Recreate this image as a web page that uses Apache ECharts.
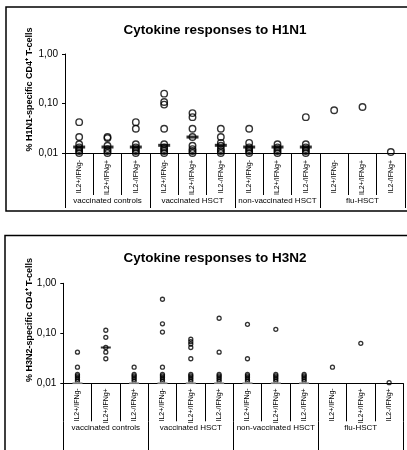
<!DOCTYPE html>
<html>
<head>
<meta charset="utf-8">
<script src="https://cdn.jsdelivr.net/npm/echarts@6/dist/echarts.min.js"></script>
<style>
html,body{margin:0;padding:0;background:#fff;}
#c{width:407px;height:450px;}
</style>
</head>
<body>
<div id="c"></div>
<script>
// ---- data ----
const categories = ['IL2+/IFNg-','IL2+/IFNg+','IL2-/IFNg+','IL2+/IFNg-','IL2+/IFNg+','IL2-/IFNg+','IL2+/IFNg-','IL2+/IFNg+','IL2-/IFNg+','IL2+/IFNg-','IL2+/IFNg+','IL2-/IFNg+'];
const groups = ['vaccinated controls','vaccinated HSCT','non-vaccinated HSCT','flu-HSCT'];
const titles = ['Cytokine responses to H1N1','Cytokine responses to H3N2'];
const yNames = ['% H1N1-specific CD4\u207A T-cells','% H3N2-specific CD4\u207A T-cells'];

// H1N1: one list of values per column, by group
const h1n1VaccControls = [
  [0.042, 0.021, 0.015, 0.013, 0.012, 0.011, 0.01],
  [0.021, 0.02, 0.014, 0.012, 0.011, 0.01],
  [0.042, 0.031, 0.015, 0.013, 0.012, 0.011, 0.01]
];
const h1n1VaccHSCT = [
  [0.158, 0.107, 0.095, 0.031, 0.015, 0.013, 0.012, 0.011, 0.01],
  [0.064, 0.053, 0.031, 0.021, 0.014, 0.012, 0.011, 0.01],
  [0.031, 0.021, 0.016, 0.014, 0.012, 0.011, 0.01]
];
const h1n1NonVaccHSCT = [
  [0.031, 0.016, 0.013, 0.012, 0.011, 0.01],
  [0.015, 0.013, 0.012, 0.011, 0.01],
  [0.053, 0.015, 0.013, 0.012, 0.011, 0.01]
];
const h1n1FluHSCT = [
  [0.073],
  [0.085],
  [0.0105]
];
const h1n1Medians = [0.0132, 0.0132, 0.0132, 0.0143, 0.021, 0.0143, 0.0132, 0.0132, 0.0132, null, null, null];

// H3N2
const h3n2VaccControls = [
  [0.042, 0.021, 0.015, 0.014, 0.013, 0.012, 0.011],
  [0.115, 0.083, 0.052, 0.042, 0.031],
  [0.021, 0.015, 0.014, 0.013, 0.012, 0.011]
];
const h3n2VaccHSCT = [
  [0.48, 0.155, 0.106, 0.021, 0.015, 0.014, 0.013, 0.012, 0.011],
  [0.076, 0.068, 0.061, 0.052, 0.031, 0.015, 0.014, 0.013, 0.012, 0.011],
  [0.2, 0.042, 0.015, 0.014, 0.013, 0.012, 0.011]
];
const h3n2NonVaccHSCT = [
  [0.151, 0.031, 0.015, 0.014, 0.013, 0.012, 0.011],
  [0.12, 0.015, 0.014, 0.013, 0.012, 0.011],
  [0.015, 0.014, 0.013, 0.012, 0.011]
];
const h3n2FluHSCT = [
  [0.021],
  [0.063],
  [0.0103]
];
const h3n2Medians = [0.0101, 0.052, 0.0101, 0.0101, 0.0101, 0.0101, 0.0101, 0.0101, 0.0101, null, null, null];

// ---- build ----
function toPoints(groupLists){
  const cols = [].concat(...groupLists);
  const pts = [];
  cols.forEach((vals, i) => vals.forEach(v => pts.push([i, v])));
  return pts;
}
function toMedians(arr, pred){
  const out = [];
  arr.forEach((v,i) => { if (v != null && pred(v)) out.push([i, v]); });
  return out;
}
const h1n1Points = toPoints([h1n1VaccControls, h1n1VaccHSCT, h1n1NonVaccHSCT, h1n1FluHSCT]);
const h3n2Points = toPoints([h3n2VaccControls, h3n2VaccHSCT, h3n2NonVaccHSCT, h3n2FluHSCT]);

const FONT = 'Liberation Sans, Arial, sans-serif';
const grids = [
  {left: 65, right: 2, top: 54, height: 99},
  {left: 63.3, right: 3.7, top: 283.3, height: 100}
];
const catTickLen = [42, 38];
const groupTickLen = [13, 30];
const catMargin = [7, 5];

function yAxisFor(g){
  return {
    type: 'log', logBase: 10, min: 0.01, max: 1, gridIndex: g,
    axisLine: {show: true, lineStyle: {color: '#000', width: 1}},
    axisTick: {show: true, length: 3, lineStyle: {color: '#000'}},
    splitLine: {show: false},
    minorTick: {show: false},
    axisLabel: {
      color: '#000', fontSize: 10, fontFamily: FONT, margin: 7,
      formatter: v => Number(v).toFixed(2).replace('.', ',')
    }
  };
}
function xAxesFor(g){
  return [{
    type: 'category', data: categories, gridIndex: g, boundaryGap: true,
    axisLine: {show: true, lineStyle: {color: '#000', width: 1}},
    axisTick: {show: true, interval: 0, length: catTickLen[g], lineStyle: {color: '#000'}},
    axisLabel: {interval: 0, rotate: 90, fontSize: 7, fontFamily: FONT, color: '#000', margin: catMargin[g]},
    splitLine: {show: false}
  },{
    type: 'category', data: groups, gridIndex: g, boundaryGap: true, position: 'bottom',
    offset: catTickLen[g],
    axisLine: {show: false},
    axisTick: {show: true, interval: 0, length: groupTickLen[g], lineStyle: {color: '#000'}},
    axisLabel: {interval: 0, fontSize: 8, fontFamily: FONT, color: '#000', margin: 2},
    splitLine: {show: false}
  }];
}

const option = {
  animation: false,
  backgroundColor: '#fff',
  title: [
    {text: titles[0], left: 210, top: 18, textAlign: 'center',
     textStyle: {fontSize: 13.5, fontWeight: 'bold', color: '#000', fontFamily: FONT}},
    {text: titles[1], left: 210, top: 246, textAlign: 'center',
     textStyle: {fontSize: 13.5, fontWeight: 'bold', color: '#000', fontFamily: FONT}}
  ],
  grid: grids,
  xAxis: [...xAxesFor(0), ...xAxesFor(1)],
  yAxis: [yAxisFor(0), yAxisFor(1)],
  graphic: [
    {type: 'rect', shape: {x: 6, y: 7, width: 420, height: 204}, style: {fill: 'none', stroke: '#000', lineWidth: 1.5}, silent: true},
    {type: 'rect', shape: {x: 5, y: 235.5, width: 420, height: 240}, style: {fill: 'none', stroke: '#000', lineWidth: 1.5}, silent: true},
    {type: 'text', x: 30, y: 89.5, rotation: Math.PI/2,
     style: {text: yNames[0], font: 'bold 9px ' + FONT, fill: '#000', textAlign: 'center', textVerticalAlign: 'middle'}},
    {type: 'text', x: 30, y: 320, rotation: Math.PI/2,
     style: {text: yNames[1], font: 'bold 9px ' + FONT, fill: '#000', textAlign: 'center', textVerticalAlign: 'middle'}}
  ],
  series: [
    {type: 'scatter', xAxisIndex: 0, yAxisIndex: 0, data: toMedians(h1n1Medians, () => true), clip: false,
     symbol: 'rect', symbolSize: [12, 3], itemStyle: {color: '#000'}, z: 2},
    {type: 'scatter', xAxisIndex: 0, yAxisIndex: 0, data: h1n1Points, clip: false,
     symbol: 'circle', symbolSize: 6.5,
     itemStyle: {color: 'rgba(0,0,0,0)', borderColor: '#000', borderWidth: 1.4}, z: 3},
    {type: 'scatter', xAxisIndex: 2, yAxisIndex: 1, data: toMedians(h3n2Medians, v => v > 0.011), clip: false,
     symbol: 'rect', symbolSize: [10, 2], itemStyle: {color: '#000'}, z: 2},
    {type: 'scatter', xAxisIndex: 2, yAxisIndex: 1, data: toMedians(h3n2Medians, v => v <= 0.011), clip: false,
     symbol: 'rect', symbolSize: [10, 2], itemStyle: {color: '#999'}, z: 4},
    {type: 'scatter', xAxisIndex: 2, yAxisIndex: 1, data: h3n2Points, clip: false,
     symbol: 'circle', symbolSize: 4,
     itemStyle: {color: 'rgba(0,0,0,0)', borderColor: '#000', borderWidth: 1.3}, z: 3}
  ]
};

const chart = echarts.init(document.getElementById('c'), null, {renderer: 'canvas'});
chart.setOption(option);
</script>
</body>
</html>
